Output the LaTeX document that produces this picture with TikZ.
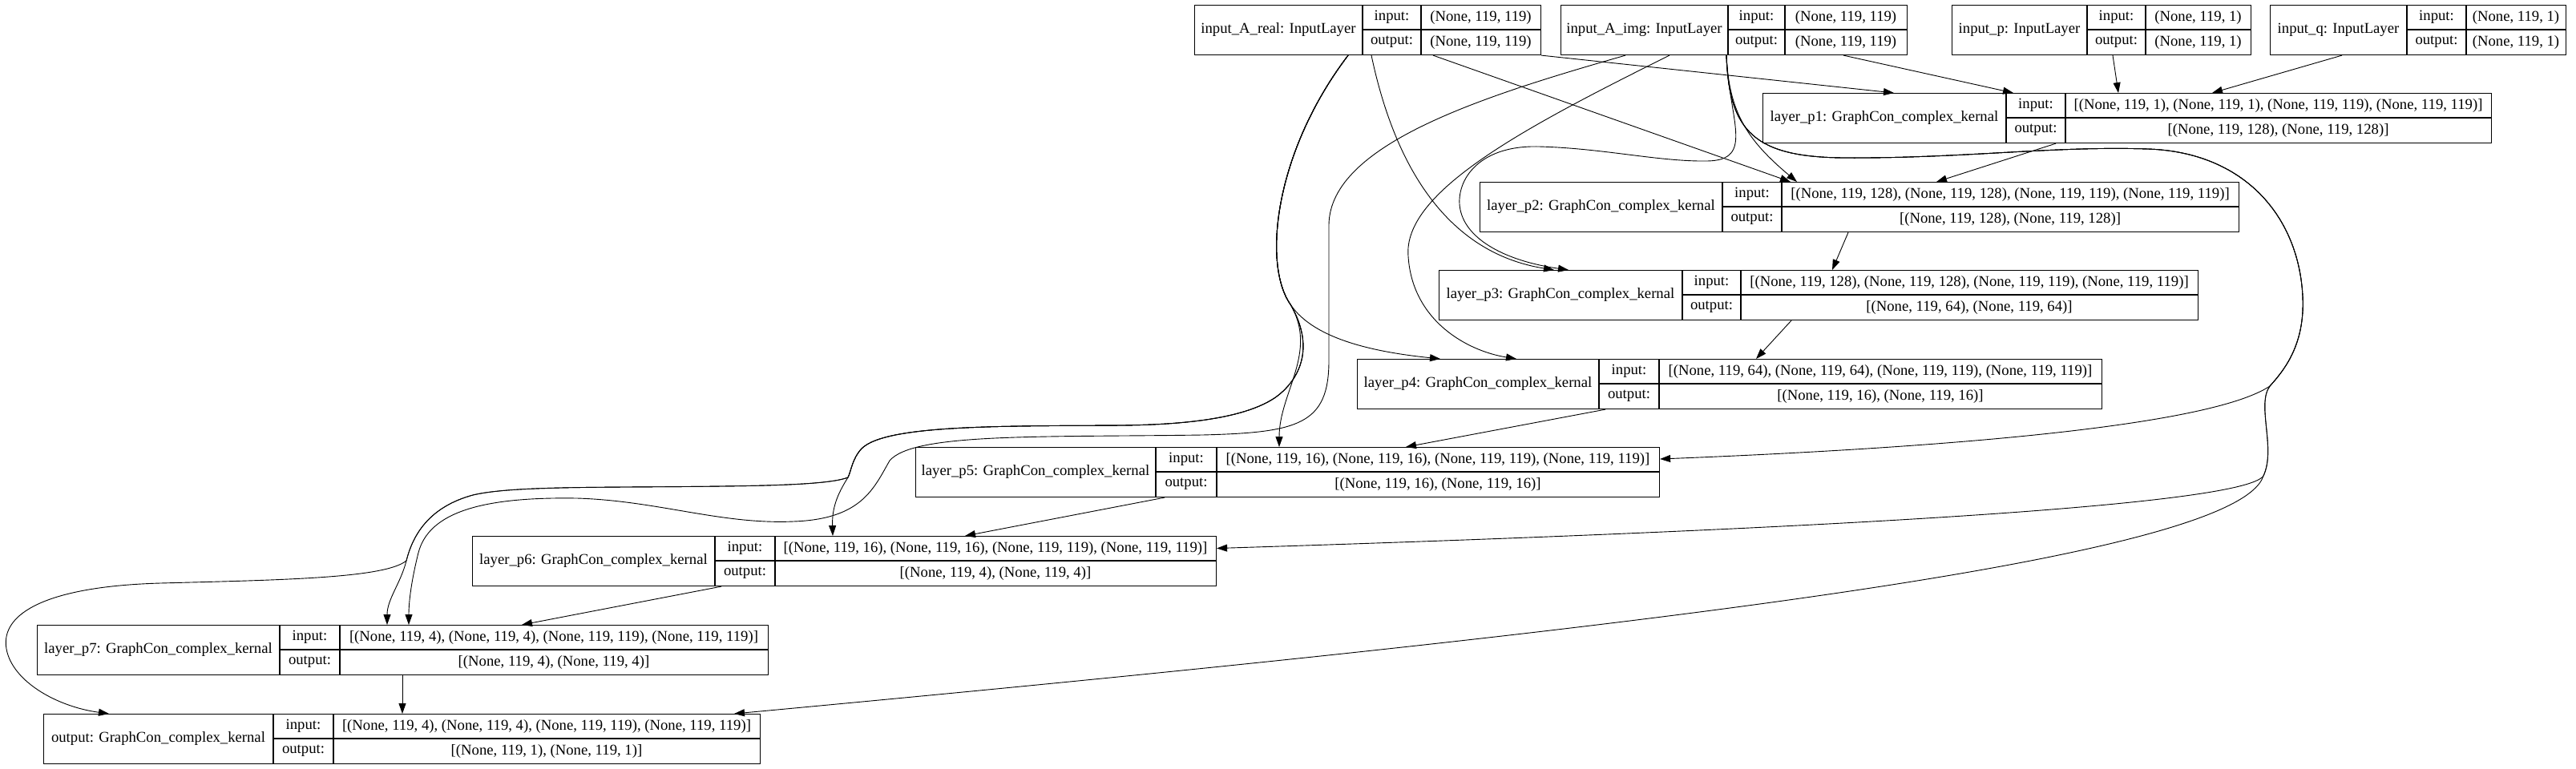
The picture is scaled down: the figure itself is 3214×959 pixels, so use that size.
\documentclass[tikz,border=0pt]{standalone}
\usepackage{fontspec}
\setmainfont{Liberation Serif}
\usepackage{tikz}
\usetikzlibrary{arrows.meta}
\newcommand{\KerasLayer}[9]{%
  \node[layerbox, minimum width={#5-#2}, anchor=north west] (#1) at (#2,#6) {};
  \draw[gridline] (#3,#6) -- (#3,{#6+62});
  \draw[gridline] (#4,#6) -- (#4,{#6+62});
  \draw[gridline] (#3,{#6+31}) -- (#5,{#6+31});
  \node[celltext] (#1-lbl) at ({(#2+#3)/2},{#6+31}) {#7};
  \node[celltext] (#1-in) at ({(#3+#4)/2},{#6+15.5}) {input:};
  \node[celltext] (#1-out) at ({(#3+#4)/2},{#6+46.5}) {output:};
  \node[celltext] (#1-inv) at ({(#4+#5)/2},{#6+15.5}) {#8};
  \node[celltext] (#1-outv) at ({(#4+#5)/2},{#6+46.5}) {#9};
}

\begin{document}
\begin{tikzpicture}[x=1pt,y=-1pt,
  layerbox/.style={draw,line width=1.1pt,minimum height=62,inner sep=0},
  gridline/.style={line width=1.1pt},
  celltext/.style={inner sep=0,font=\fontsize{18.7pt}{22pt}\selectfont},
  kedge/.style={line width=0.9pt,-{Triangle[length=13pt,width=9pt]}}]
\useasboundingbox (0,0) rectangle (3214,959);
\KerasLayer{Areal}{1490}{1700}{1773}{1922}{6}{input\_A\_real: InputLayer}{(None, 119, 119)}{(None, 119, 119)}
\KerasLayer{Aimg}{1947}{2156}{2227}{2379}{6}{input\_A\_img: InputLayer}{(None, 119, 119)}{(None, 119, 119)}
\KerasLayer{Ip}{2435}{2604}{2677}{2808}{6}{input\_p: InputLayer}{(None, 119, 1)}{(None, 119, 1)}
\KerasLayer{Iq}{2832}{3003}{3077}{3201}{6}{input\_q: InputLayer}{(None, 119, 1)}{(None, 119, 1)}
\KerasLayer{p1}{2199}{2503}{2577}{3108}{116}{layer\_p1: GraphCon\_complex\_kernal}{[(None, 119, 1), (None, 119, 1), (None, 119, 119), (None, 119, 119)]}{[(None, 119, 128), (None, 119, 128)]}
\KerasLayer{p2}{1846}{2149}{2223}{2793}{227}{layer\_p2: GraphCon\_complex\_kernal}{[(None, 119, 128), (None, 119, 128), (None, 119, 119), (None, 119, 119)]}{[(None, 119, 128), (None, 119, 128)]}
\KerasLayer{p3}{1795}{2099}{2172}{2742}{337}{layer\_p3: GraphCon\_complex\_kernal}{[(None, 119, 128), (None, 119, 128), (None, 119, 119), (None, 119, 119)]}{[(None, 119, 64), (None, 119, 64)]}
\KerasLayer{p4}{1693}{1995}{2070}{2622}{448}{layer\_p4: GraphCon\_complex\_kernal}{[(None, 119, 64), (None, 119, 64), (None, 119, 119), (None, 119, 119)]}{[(None, 119, 16), (None, 119, 16)]}
\KerasLayer{p5}{1142}{1442}{1518}{2070}{558}{layer\_p5: GraphCon\_complex\_kernal}{[(None, 119, 16), (None, 119, 16), (None, 119, 119), (None, 119, 119)]}{[(None, 119, 16), (None, 119, 16)]}
\KerasLayer{p6}{589}{892}{967}{1517}{669}{layer\_p6: GraphCon\_complex\_kernal}{[(None, 119, 16), (None, 119, 16), (None, 119, 119), (None, 119, 119)]}{[(None, 119, 4), (None, 119, 4)]}
\KerasLayer{p7}{46}{349}{424}{958}{780}{layer\_p7: GraphCon\_complex\_kernal}{[(None, 119, 4), (None, 119, 4), (None, 119, 119), (None, 119, 119)]}{[(None, 119, 4), (None, 119, 4)]}
\KerasLayer{out}{54}{341}{416}{948}{891}{output: GraphCon\_complex\_kernal}{[(None, 119, 4), (None, 119, 4), (None, 119, 119), (None, 119, 119)]}{[(None, 119, 1), (None, 119, 1)]}
\draw[kedge] (Areal.south east) -- ([xshift=164]p1.north west);
\draw[kedge] ([xshift=298]Areal.south west) -- ([xshift=388]p2.north west);
\draw[kedge] ([xshift=221]Areal.south west) .. controls (1745,230) and (1820,318) .. ([xshift=144]p3.north west);
\draw[kedge] ([xshift=192]Areal.south west) .. controls (1590,190) and (1575,330) .. (1610,380) .. controls (1640,425) and (1720,440) .. ([xshift=104]p4.north west);
\draw[kedge] ([xshift=192]Areal.south west) .. controls (1590,190) and (1575,330) .. (1610,380) .. controls (1645,440) and (1596,490) .. ([xshift=454]p5.north west);
\draw[kedge] ([xshift=192]Areal.south west) .. controls (1590,190) and (1575,330) .. (1610,380) .. controls (1645,440) and (1615,480) .. (1590,497) .. controls (1555,520) and (1490,530) .. (1400,531) .. controls (1250,532) and (1105,530) .. (1075,560) .. controls (1063,573) and (1062,588) .. (1058,596) .. controls (1044,618) and (1038,635) .. ([xshift=450]p6.north west);
\draw[kedge] ([xshift=192]Areal.south west) .. controls (1590,190) and (1575,330) .. (1610,380) .. controls (1645,440) and (1615,480) .. (1590,497) .. controls (1555,520) and (1490,530) .. (1400,531) .. controls (1250,532) and (1105,530) .. (1075,560) .. controls (1063,573) and (1062,588) .. (1058,596) .. controls (1040,603) and (990,606) .. (900,607) .. controls (760,609) and (640,606) .. (590,618) .. controls (535,633) and (515,668) .. (507,700) .. controls (500,728) and (483,748) .. ([xshift=437]p7.north west);
\draw[kedge] ([xshift=192]Areal.south west) .. controls (1590,190) and (1575,330) .. (1610,380) .. controls (1645,440) and (1615,480) .. (1590,497) .. controls (1555,520) and (1490,530) .. (1400,531) .. controls (1250,532) and (1105,530) .. (1075,560) .. controls (1063,573) and (1062,588) .. (1058,596) .. controls (1040,603) and (990,606) .. (900,607) .. controls (760,609) and (640,606) .. (590,618) .. controls (535,633) and (515,668) .. (507,700) .. controls (480,722) and (350,724) .. (200,728) .. controls (60,732) and (0,765) .. (8,810) .. controls (15,850) and (70,882) .. ([xshift=82]out.north west);
\draw[kedge] ([xshift=353]Aimg.south west) -- ([xshift=313]p1.north west);
\draw[kedge] ([xshift=207]Aimg.south west) .. controls (2157,140) and (2180,175) .. ([xshift=396]p2.north west);
\draw[kedge] ([xshift=207]Aimg.south west) .. controls (2157,150) and (2190,200) .. (2130,201) .. controls (2070,202) and (2000,185) .. (1920,183) .. controls (1840,181) and (1815,230) .. (1822,262) .. controls (1830,300) and (1880,326) .. ([xshift=162]p3.north west);
\draw[kedge] ([xshift=136]Aimg.south west) .. controls (1900,160) and (1750,240) .. (1757,320) .. controls (1762,400) and (1830,438) .. ([xshift=199]p4.north west);
\draw[kedge] ([xshift=207]Aimg.south west) .. controls (2157,165) and (2190,196) .. (2300,197) .. controls (2450,198) and (2560,182) .. (2680,186) .. controls (2800,190) and (2868,270) .. (2873,370) .. controls (2876,430) and (2850,462) .. (2832,482) .. controls (2760,530) and (2450,558) .. ([yshift=-15]p5.north east);
\draw[kedge] ([xshift=207]Aimg.south west) .. controls (2157,165) and (2190,196) .. (2300,197) .. controls (2450,198) and (2560,182) .. (2680,186) .. controls (2800,190) and (2868,270) .. (2873,370) .. controls (2876,430) and (2850,462) .. (2832,482) .. controls (2815,505) and (2840,560) .. (2824,594) .. controls (2800,630) and (2300,660) .. ([yshift=-15.5]p6.north east);
\draw[kedge] ([xshift=207]Aimg.south west) .. controls (2157,165) and (2190,196) .. (2300,197) .. controls (2450,198) and (2560,182) .. (2680,186) .. controls (2800,190) and (2868,270) .. (2873,370) .. controls (2876,430) and (2850,462) .. (2832,482) .. controls (2815,505) and (2840,560) .. (2824,594) .. controls (2790,700) and (2000,790) .. ([xshift=862]out.north west);
\draw[kedge] ([xshift=81]Aimg.south west) .. controls (1850,120) and (1660,180) .. (1658,280) -- (1658,450) .. controls (1658,530) and (1620,540) .. (1500,543) .. controls (1300,546) and (1140,540) .. (1110,575) .. controls (1090,610) and (1075,648) .. (990,651) .. controls (900,655) and (820,625) .. (720,622) .. controls (600,620) and (535,640) .. (522,690) .. controls (512,730) and (510,755) .. ([xshift=464]p7.north west);
\draw[kedge] ([xshift=201]Ip.south west) -- ([xshift=444]p1.north west);
\draw[kedge] ([xshift=90]Iq.south west) -- ([xshift=561]p1.north west);
\draw[kedge] ([xshift=366]p1.south west) -- ([xshift=570]p2.north west);
\draw[kedge] ([xshift=460]p2.south west) -- ([xshift=491]p3.north west);
\draw[kedge] ([xshift=440]p3.south west) -- ([xshift=498]p4.north west);
\draw[kedge] ([xshift=310]p4.south west) -- ([xshift=612]p5.north west);
\draw[kedge] ([xshift=311]p5.south west) -- ([xshift=615]p6.north west);
\draw[kedge] ([xshift=311]p6.south west) -- ([xshift=605]p7.north west);
\draw[kedge] ([xshift=456]p7.south west) -- ([xshift=448]out.north west);
\end{tikzpicture}
\end{document}
